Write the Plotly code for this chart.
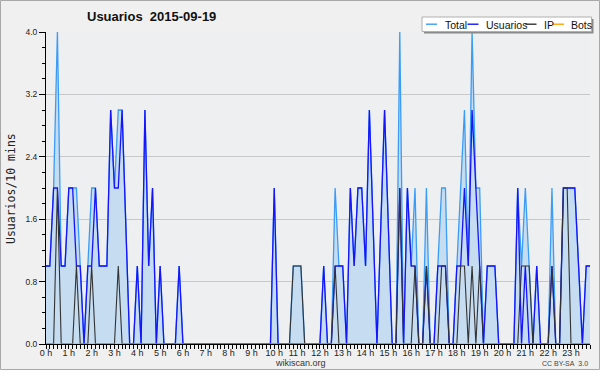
import plotly.graph_objects as go

# 10-minute slots (0 .. 143) of 2015-09-19
slots = list(range(144))
hour_labels = [f"{h} h" for h in range(24)]
hour_slots = [h * 6 for h in range(24)]
y_ticks = [0.0, 0.8, 1.6, 2.4, 3.2, 4.0]
y_tick_labels = ["0.0", "0.8", "1.6", "2.4", "3.2", "4.0"]
N = None  # slot with no sample: the line joins its neighbours

total = [1, 1, 2, 4, 1, 1, 2, 2, 2, 1, 0, 1,
         2, 2, 1, 1, 1, 3, 2, 3, 3, N, 0, 0,
         1, 0, 3, 1, 2, 0, 1, 0, 0, 0, 0, 1,
         0, 0, 0, 0, 0, 0, 0, 0, 0, 0, 0, 0,
         0, 0, 0, 0, 0, 0, 0, 0, 0, 0, 0, 0,
         2, 0, 0, 0, 0, 1, 1, 1, 0, 0, 0, 0,
         0, 1, 0, 0, 2, 1, 1, 0, 2, 1, 2, 2,
         1, 3, N, 0, N, 3, N, 0, 0, 4, 0, 2,
         1, 2, 0, 0, 2, 0, 0, 1, 2, 2, 0, 0,
         1, 2, 3, 1, 4, 2, 2, 0, 1, 1, 1, 0,
         0, 0, 0, 0, 2, 1, 2, 1, 0, 1, 0, 0,
         0, 2, 0, 0, 2, 2, 2, 2, 1, 0, 1, 1]

usuarios = [1, 1, 2, 2, 1, 1, 2, 2, 1, 1, 0, 1,
            1, 2, 1, 1, 1, 3, 2, 2, 3, N, 0, 0,
            1, 0, 3, 1, 2, 0, 1, 0, 0, 0, 0, 1,
            0, 0, 0, 0, 0, 0, 0, 0, 0, 0, 0, 0,
            0, 0, 0, 0, 0, 0, 0, 0, 0, 0, 0, 0,
            2, 0, 0, 0, 0, 0, 0, 0, 0, 0, 0, 0,
            0, 1, 0, 0, 1, 1, 1, 0, 2, 1, 2, 2,
            1, 3, N, 0, N, 3, N, 0, 0, 2, 0, 2,
            1, 1, 0, 0, 1, 0, 0, 1, 1, 1, 0, 0,
            1, 1, 2, 1, 3, 2, 1, 0, 1, 1, 1, 0,
            0, 0, 0, 0, 2, 0, 1, 0, 0, 1, 0, 0,
            0, 1, 0, 0, 2, 2, 2, 2, 1, 0, 1, 1]

ip = [0, 0, 0, 2, 0, 0, 0, 0, 1, 0, 0, 0,
      1, 0, 0, 0, 0, 0, 0, 1, 0, N, 0, 0,
      0, 0, 0, 0, 0, 0, 0, 0, 0, 0, 0, 0,
      0, 0, 0, 0, 0, 0, 0, 0, 0, 0, 0, 0,
      0, 0, 0, 0, 0, 0, 0, 0, 0, 0, 0, 0,
      0, 0, 0, 0, 0, 1, 1, 1, 0, 0, 0, 0,
      0, 0, 0, 0, 1, 0, 0, 0, 0, 0, 0, 0,
      0, 0, N, 0, N, 0, N, 0, 0, 2, 0, 0,
      0, 1, 0, 0, 1, 0, 0, 0, 1, 1, 0, 0,
      0, 1, 1, 0, 1, 0, 1, 0, 0, 0, 0, 0,
      0, 0, 0, 0, 0, 1, 1, 1, 0, 0, 0, 0,
      0, 1, 0, 0, 2, 2, 0, 0, 0, 0, 0, 0]

bots = [0] * 144

C_TOTAL = "#3a9cf5"
C_USU = "#1414ff"
C_IP = "#333333"
C_BOTS = "#ffa500"

fig = go.Figure()
fig.add_trace(go.Scatter(x=slots, y=total, name="Total", mode="lines",
                         line=dict(color=C_TOTAL, width=1.3), fill="tozeroy",
                         fillcolor="#c6dcf0", connectgaps=True))
fig.add_trace(go.Scatter(x=slots, y=usuarios, name="Usuarios", mode="lines",
                         line=dict(color=C_USU, width=1.3), connectgaps=True))
fig.add_trace(go.Scatter(x=slots, y=ip, name="IP", mode="lines",
                         line=dict(color=C_IP, width=1.1), connectgaps=True))
fig.add_trace(go.Scatter(x=slots, y=bots, name="Bots", mode="lines",
                         line=dict(color=C_BOTS, width=1.1)))

L, R, T, B = 46, 590, 32, 344
W, H = R - L, B - T


def px(x):
    return (x - L) / W


def py(y):
    return (B - y) / H


shapes = [
    dict(type="rect", xref="paper", yref="paper", x0=px(0.5), x1=px(599.5),
         y0=py(0.5), y1=py(369.5), line=dict(color="#a8a8a8", width=1),
         layer="below"),
    # legend box with shadow
    dict(type="rect", xref="paper", yref="paper", x0=px(424), x1=px(593.5),
         y0=py(19), y1=py(33.5), fillcolor="#8a8a8a", line=dict(width=0)),
    dict(type="rect", xref="paper", yref="paper", x0=px(422), x1=px(591.5),
         y0=py(17), y1=py(31.5), fillcolor="white",
         line=dict(color="#b0b0b0", width=1)),
]
legend_items = [("Total", C_TOTAL, 426, 437, 442.5),
                ("Usuarios", C_USU, 467.5, 478.5, 483.5),
                ("IP", C_IP, 525.5, 536.5, 541.5),
                ("Bots", C_BOTS, 553, 564, 568.5)]
annotations = []
for name, col, lx0, lx1, tx in legend_items:
    shapes.append(dict(type="line", xref="paper", yref="paper", x0=px(lx0), x1=px(lx1),
                       y0=py(24.2), y1=py(24.2), line=dict(color=col, width=1.4)))
    annotations.append(dict(text=name, xref="paper", yref="paper", x=px(tx), y=py(24.8),
                            xanchor="left", yanchor="middle", showarrow=False,
                            font=dict(family="Liberation Sans", size=10.5, color="#111")))

annotations += [
    dict(text="Usuarios&nbsp;&nbsp;2015-09-19", xref="paper", yref="paper", x=px(84.5), y=py(17),
         xanchor="left", yanchor="middle", showarrow=False,
         font=dict(family="Liberation Sans", size=13, color="#111", weight="bold")),
    dict(text="Usuarios/10 mins", xref="paper", yref="paper", x=px(10.5), y=py(188.5),
         xanchor="center", yanchor="middle", textangle=-90, showarrow=False,
         font=dict(family="DejaVu Sans Mono", size=11.5, color="#222")),
    dict(text="wikiscan.org", xref="paper", yref="paper", x=px(300.5), y=py(362.5),
         xanchor="center", yanchor="middle", showarrow=False,
         font=dict(family="Liberation Sans", size=9, color="#333")),
    dict(text="CC BY-SA&nbsp;&nbsp;3.0", xref="paper", yref="paper", x=px(589.5), y=py(363),
         xanchor="right", yanchor="middle", showarrow=False,
         font=dict(family="Liberation Sans", size=7, color="#444")),
]

fig.update_layout(
    width=600, height=370,
    margin=dict(l=L, r=600 - R, t=T, b=370 - B, pad=0, autoexpand=False),
    paper_bgcolor="#f0f0f0", plot_bgcolor="#eeeff1",
    showlegend=False,
    shapes=shapes, annotations=annotations,
    font=dict(family="Liberation Sans", size=9, color="#222"),
)
fig.update_xaxes(range=[0, 143], tickmode="array", tickvals=hour_slots, ticktext=hour_labels,
                 automargin=False, ticklabelstandoff=-4,
                 showgrid=False, zeroline=False, showline=True, linecolor="black", linewidth=1,
                 ticks="outside", ticklen=4, tickcolor="black", tickwidth=1,
                 tickfont=dict(family="Liberation Sans", size=9, color="#222"),
                 minor=dict(tickmode="linear", tick0=0, dtick=1, ticks="outside", ticklen=4,
                            tickcolor="black", showgrid=False),
                 fixedrange=True)
fig.update_yaxes(range=[0, 4], tickmode="array", tickvals=y_ticks, ticktext=y_tick_labels,
                 automargin=False,
                 showgrid=True, gridcolor="#c8c8c8", gridwidth=1, zeroline=False,
                 showline=True, linecolor="black", linewidth=1,
                 ticks="outside", ticklen=6, tickcolor="black", tickwidth=1,
                 tickfont=dict(family="Liberation Sans", size=8.5, color="#222"),
                 minor=dict(tickmode="linear", tick0=0, dtick=0.2, ticks="outside", ticklen=3,
                            tickcolor="black", showgrid=False),
                 fixedrange=True)

fig.write_html("out.html", config={"displayModeBar": False},
               post_script="document.body.style.margin='0px';document.body.style.padding='0px';")
